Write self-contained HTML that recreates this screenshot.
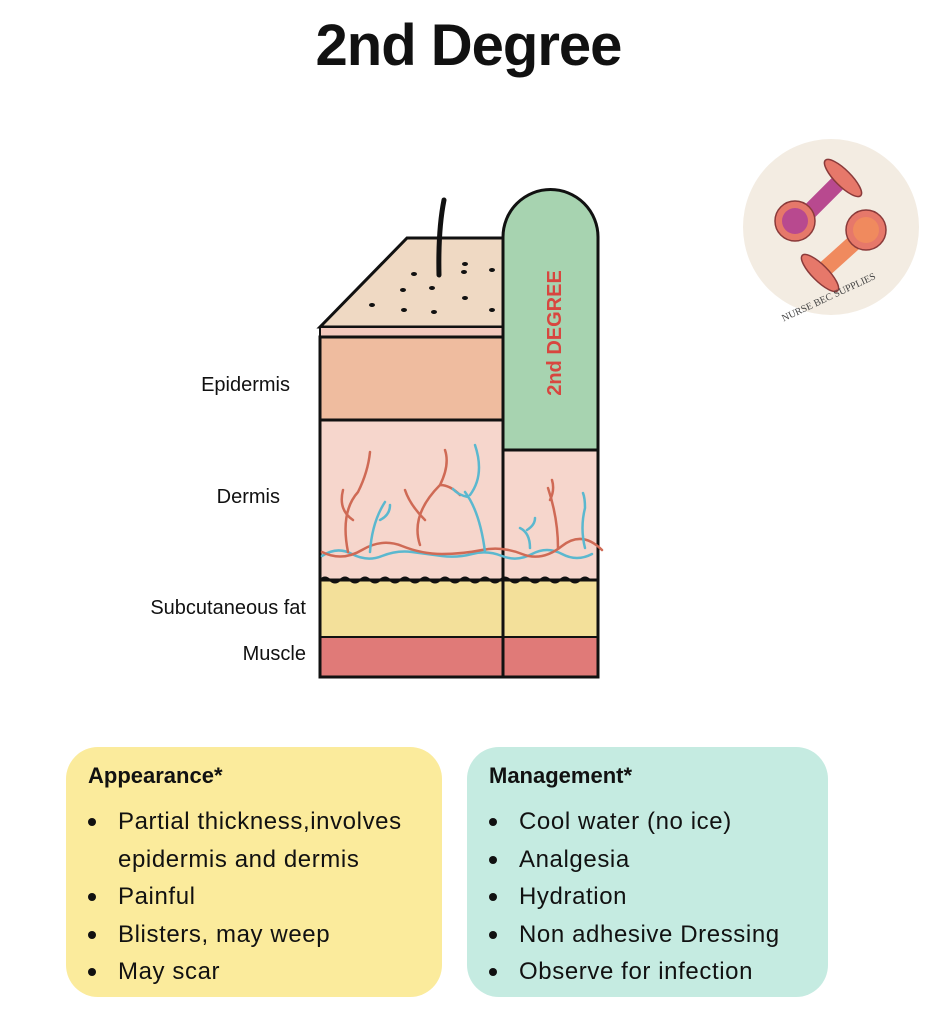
<!DOCTYPE html>
<html><head><meta charset="utf-8"><style>
body{margin:0;width:937px;height:1010px;background:#fff;position:relative;font-family:"Liberation Sans",sans-serif;overflow:hidden}
.t{position:absolute;color:#111}
.box{position:absolute;border-radius:32px}
.box h3{margin:0;position:absolute;left:22px;top:16px;font-size:22px;font-weight:bold;color:#111}
.box ul{position:absolute;left:0;top:56px;margin:0;padding:0 0 0 52px;font-size:24px;letter-spacing:0.6px;line-height:37.5px;color:#111;white-space:nowrap}
.box li{list-style:none;position:relative}
.box li.b:before{content:"";position:absolute;left:-30px;top:15px;width:8px;height:8px;border-radius:50%;background:#111}
.lab{position:absolute;font-size:20px;color:#111;text-align:right;width:200px}
</style></head><body>
<div class="t" style="left:0;width:937px;top:12px;text-align:center;font-size:58px;font-weight:bold;letter-spacing:-1px">2nd Degree</div>

<svg style="position:absolute;left:0;top:0" width="937" height="700">
<polygon points="320,327 407,238 503,238 503,327" fill="#efd9c3" stroke="#111" stroke-width="3"/>
<rect x="320" y="327" width="183" height="10" fill="#f3c9bd" stroke="#111" stroke-width="2"/>
<rect x="320" y="337" width="183" height="83" fill="#efbc9f" stroke="#111" stroke-width="3"/>
<rect x="320" y="420" width="183" height="160" fill="#f6d6cc" stroke="#111" stroke-width="3"/>
<rect x="320" y="580" width="183" height="57" fill="#f3e09a"/>
<rect x="320" y="637" width="183" height="40" fill="#e07a78" stroke="#111" stroke-width="2"/>
<rect x="503" y="450" width="95" height="130" fill="#f6d6cc" stroke="#111" stroke-width="3"/>
<rect x="503" y="580" width="95" height="57" fill="#f3e09a"/>
<rect x="503" y="637" width="95" height="40" fill="#e07a78" stroke="#111" stroke-width="2"/>
<path d="M503,450 L503,237 A47.5,47.5 0 0 1 598,237 L598,450 Z" fill="#a7d3b0" stroke="#111" stroke-width="3"/>
<rect x="320" y="580" width="278" height="97" fill="none" stroke="#111" stroke-width="3"/>
<line x1="503" y1="420" x2="503" y2="677" stroke="#111" stroke-width="3"/>
<path d="M320,580 q5,-5 10,0 t10,0 t10,0 t10,0 t10,0 t10,0 t10,0 t10,0 t10,0 t10,0 t10,0 t10,0 t10,0 t10,0 t10,0 t10,0 t10,0 t10,0 t10,0 t10,0 t10,0 t10,0 t10,0 t10,0 t10,0 t10,0 t10,0" fill="none" stroke="#111" stroke-width="2"/>
<path d="M444,200 q-6,30 -5,75" stroke="#111" stroke-width="5" fill="none" stroke-linecap="round"/>
<g fill="#111">
<ellipse cx="372" cy="305" rx="3" ry="2"/><ellipse cx="403" cy="290" rx="3" ry="2"/><ellipse cx="432" cy="288" rx="3" ry="2"/><ellipse cx="414" cy="274" rx="3" ry="2"/><ellipse cx="464" cy="272" rx="3" ry="2"/><ellipse cx="492" cy="270" rx="3" ry="2"/><ellipse cx="465" cy="298" rx="3" ry="2"/><ellipse cx="404" cy="310" rx="3" ry="2"/><ellipse cx="434" cy="312" rx="3" ry="2"/><ellipse cx="492" cy="310" rx="3" ry="2"/><ellipse cx="465" cy="264" rx="3" ry="2"/>
</g>
<g fill="none" stroke-width="2.5" stroke-linecap="round">
<path d="M322,556 q15,-10 30,-2 t30,2 t30,-4 t30,4 t30,-2 t30,2 t30,-2 t30,0 t30,0" stroke="#5bb8cf"/>
<path d="M322,552 q20,10 40,-2 t40,-4 t40,8 t40,-4 t40,4 t40,-8 t40,4" stroke="#cf6a55"/>
<path d="M348,552 q-8,-40 10,-60 M358,492 q10,-20 12,-40 M353,520 q-15,-10 -10,-30" stroke="#cf6a55"/>
<path d="M420,545 q-10,-30 20,-60 M440,485 q10,-20 5,-35 M425,520 q-15,-15 -20,-30 M440,485 q10,0 20,10" stroke="#cf6a55"/>
<path d="M370,552 q2,-30 15,-50 M380,520 q10,-5 10,-15" stroke="#5bb8cf"/>
<path d="M485,552 q-5,-40 -20,-60 M470,495 q15,-20 5,-50 M468,497 q-10,-2 -15,-8" stroke="#5bb8cf"/>
<path d="M558,548 q0,-30 -10,-60 M550,500 q5,-10 2,-20" stroke="#cf6a55"/>
<path d="M530,548 q0,-15 -10,-20 M527,530 q8,-5 8,-12" stroke="#5bb8cf"/>
<path d="M585,548 q-5,-20 0,-40 q0,-10 -2,-15" stroke="#5bb8cf"/>
</g>
<text transform="translate(561,333) rotate(-90)" text-anchor="middle" font-family="Liberation Sans" font-weight="bold" font-size="20" fill="#d8463f">2nd DEGREE</text>
<circle cx="831" cy="227" r="88" fill="#f3ece2"/>
<line x1="802" y1="219" x2="838" y2="183" stroke="#b8498f" stroke-width="16"/>
<ellipse cx="843" cy="178" rx="25" ry="8" transform="rotate(45 843 178)" fill="#e6786a" stroke="#8a3a3a" stroke-width="1.5"/>
<circle cx="795" cy="221" r="20" fill="#e6786a" stroke="#8a3a3a" stroke-width="1.5"/><circle cx="795" cy="221" r="13" fill="#b8498f"/>
<line x1="866" y1="232" x2="826" y2="268" stroke="#f08a5e" stroke-width="16"/>
<ellipse cx="820" cy="273" rx="25" ry="8" transform="rotate(45 820 273)" fill="#e6786a" stroke="#8a3a3a" stroke-width="1.5"/>
<circle cx="866" cy="230" r="20" fill="#e6786a" stroke="#8a3a3a" stroke-width="1.5"/><circle cx="866" cy="230" r="13" fill="#f08a5e"/>
<text x="830" y="300" text-anchor="middle" font-family="Liberation Serif" font-size="10" fill="#444" transform="rotate(-25 830 300)">NURSE BEC SUPPLIES</text>
</svg>

<div class="lab" style="left:90px;top:374px">Epidermis</div>
<div class="lab" style="left:80px;top:486px">Dermis</div>
<div class="lab" style="left:106px;top:597px">Subcutaneous fat</div>
<div class="lab" style="left:106px;top:643px">Muscle</div>

<div class="box" style="left:66px;top:747px;width:376px;height:250px;background:#fbeb9c">
<h3>Appearance*</h3>
<ul><li class="b">Partial thickness,involves</li><li>epidermis and dermis</li><li class="b">Painful</li><li class="b">Blisters, may weep</li><li class="b">May scar</li></ul>
</div>
<div class="box" style="left:467px;top:747px;width:361px;height:250px;background:#c5ebe1">
<h3>Management*</h3>
<ul><li class="b">Cool water (no ice)</li><li class="b">Analgesia</li><li class="b">Hydration</li><li class="b">Non adhesive Dressing</li><li class="b">Observe for infection</li></ul>
</div>
</body></html>
